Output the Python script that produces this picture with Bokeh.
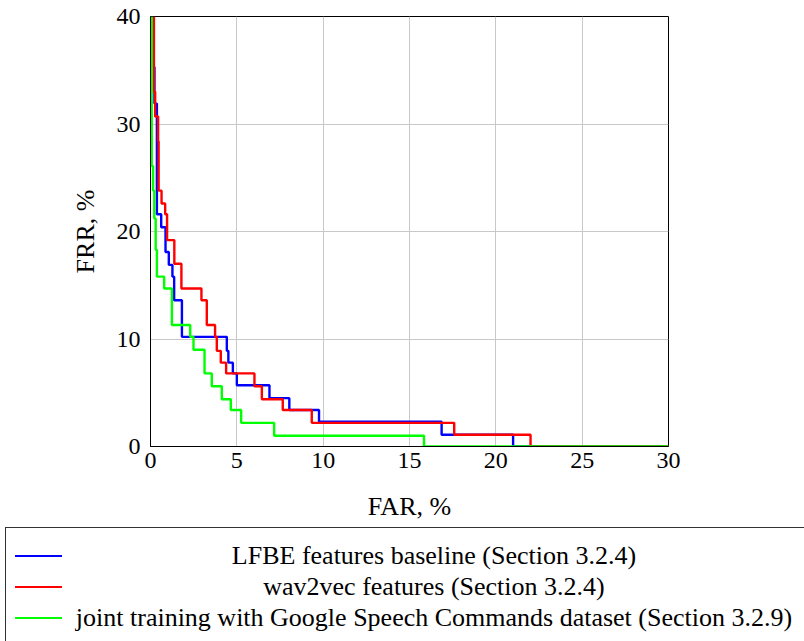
from bokeh.plotting import figure
from bokeh.models import Range1d, FixedTicker, Div
from bokeh.layouts import column
from bokeh.embed import file_html
from bokeh.resources import INLINE

# ---- data (FAR %, FRR %); step curves ----
lfbe_far = [0.18, 0.18, 0.23, 0.37, 0.62, 0.87, 1.06, 1.27, 1.37, 1.82, 4.42, 4.51, 4.77, 5.00, 6.89, 8.04, 9.76, 16.86, 21.00, 30.0]
lfbe_frr = [40.0, 35.3, 31.9, 21.6, 20.4, 18.1, 16.9, 15.8, 13.6, 10.2, 8.9, 7.8, 6.8, 5.7, 4.5, 3.4, 2.3, 1.1, 0.0, 0.0]

w2v_far = [0.20, 0.20, 0.27, 0.44, 0.47, 0.64, 0.85, 0.96, 1.38, 1.79, 2.95, 3.26, 3.74, 3.84, 4.07, 4.38, 6.02, 6.45, 7.66, 9.34, 17.59, 22.01, 30.0]
w2v_frr = [40.0, 33.0, 30.7, 28.4, 23.8, 22.6, 21.6, 19.2, 17.0, 14.7, 13.6, 11.3, 10.2, 8.9, 7.8, 6.8, 5.6, 4.4, 3.4, 2.2, 1.1, 0.0, 0.0]

gsc_far = [0.07, 0.07, 0.15, 0.22, 0.30, 0.37, 0.79, 1.24, 2.30, 2.49, 3.13, 3.55, 4.13, 4.65, 5.25, 7.16, 15.84, 30.0]
gsc_frr = [40.0, 26.1, 23.8, 21.2, 18.3, 15.8, 14.7, 11.3, 10.2, 9.0, 6.8, 5.6, 4.4, 3.4, 2.2, 1.0, 0.0, 0.0]

series_labels = [
    "LFBE features baseline (Section 3.2.4)",
    "wav2vec features (Section 3.2.4)",
    "joint training with Google Speech Commands dataset (Section 3.2.9)",
]
series_colors = ["#0000ff", "#ff0000", "#00ff00"]

x_ticks = [0, 5, 10, 15, 20, 25, 30]
y_ticks = [0, 10, 20, 30, 40]

FONT = "Liberation Serif"
W, H_PLOT = 804, 523
H_LEG = 641 - H_PLOT

p = figure(width=W, height=H_PLOT, output_backend="svg", toolbar_location=None,
           x_range=Range1d(0, 30), y_range=Range1d(0, 40),
           min_border_left=150, min_border_right=136, min_border_top=16, min_border_bottom=10)
p.background_fill_color = "white"
p.border_fill_color = "white"
p.outline_line_color = "black"
p.outline_line_width = 1

for ax in (p.xaxis, p.yaxis):
    ax.major_tick_in = 0
    ax.major_tick_out = 0
    ax.minor_tick_in = 0
    ax.minor_tick_out = 0
    ax.axis_line_color = "black"
    ax.major_label_text_font = FONT
    ax.major_label_text_font_size = "24px"
    ax.major_label_text_color = "black"
    ax.axis_label_text_font = FONT
    ax.axis_label_text_font_size = "26px"
    ax.axis_label_text_font_style = "normal"
    ax.axis_label_text_color = "black"

p.xaxis.ticker = FixedTicker(ticks=x_ticks)
p.yaxis.ticker = FixedTicker(ticks=y_ticks)
p.xaxis.major_label_standoff = 6
p.yaxis.major_label_standoff = 10
p.xaxis.axis_label = "FAR, %"
p.yaxis.axis_label = "FRR, %"
p.xaxis.axis_label_standoff = 21
p.yaxis.axis_label_standoff = 14

p.xgrid.grid_line_color = "#c8c8c8"
p.ygrid.grid_line_color = "#c8c8c8"

for xs, ys, c in [(lfbe_far, lfbe_frr, series_colors[0]),
                  (w2v_far, w2v_frr, series_colors[1]),
                  (gsc_far, gsc_frr, series_colors[2])]:
    p.step(xs, ys, mode="after", line_color=c, line_width=2.4)

# ---- legend panel below the axes ----
row_centers = [556 - H_PLOT, 587 - H_PLOT, 618 - H_PLOT]
parts = [
    f'<div style="position:absolute;left:5px;top:{527 - H_PLOT}px;width:840px;height:200px;'
    'border:1px solid #333;box-sizing:border-box;"></div>'
]
for yc, c, lab in zip(row_centers, series_colors, series_labels):
    parts.append(
        f'<div style="position:absolute;left:15px;top:{yc - 1}px;width:47px;height:2px;background:{c};"></div>'
    )
    parts.append(
        f'<div style="position:absolute;left:34px;width:800px;top:{yc - 16}px;height:32px;'
        f'line-height:32px;text-align:center;white-space:nowrap;color:black;">{lab}</div>'
    )
html = (f'<div style="position:relative;width:{W}px;height:{H_LEG}px;overflow:hidden;'
        f'font-family:\'{FONT}\';font-size:26px;background:white;">' + "".join(parts) + '</div>')
leg = Div(text=html, width=W, height=H_LEG, margin=(0, 0, 0, 0))

layout = column(p, leg, spacing=0)
open("out.html", "w").write(file_html(layout, INLINE))
